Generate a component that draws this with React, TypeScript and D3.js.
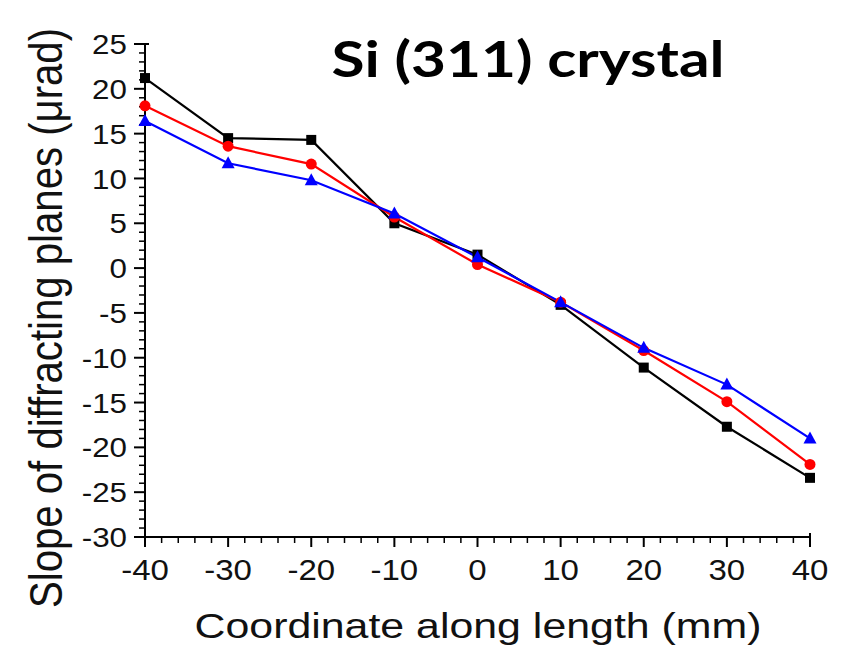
import React from "react";
import * as d3 from "d3";

const coords = [-40, -30, -20, -10, 0, 10, 20, 30, 40];
const blackSeries = [21.2, 14.5, 14.3, 5.0, 1.5, -4.1, -11.1, -17.7, -23.4];
const redSeries = [18.1, 13.6, 11.6, 5.7, 0.4, -3.8, -9.2, -14.9, -21.9];
const blueSeries = [16.4, 11.7, 9.8, 6.1, 1.2, -3.8, -8.9, -13.0, -19.0];
const xTicks = [-40, -30, -20, -10, 0, 10, 20, 30, 40];
const yTicks = [25, 20, 15, 10, 5, 0, -5, -10, -15, -20, -25, -30];

const W = 846, H = 651;
const x = d3.scaleLinear().domain([-40, 40]).range([145, 810]);
const y = d3.scaleLinear().domain([-30, 25]).range([537, 44]);

export default function App() {
  const line = d3.line<[number, number]>().x(d => x(d[0])).y(d => y(d[1]));
  const mk = (vals: number[]) => coords.map((c, i) => [c, vals[i]] as [number, number]);
  const xMinor = d3.range(-40, 41, 2).filter(v => v % 10 !== 0);
  const yMinor = d3.range(-30, 26, 1).filter(v => v % 5 !== 0);
  const font = "'Liberation Sans', Arial, sans-serif";
  return (
    <svg width={W} height={H} style={{ position: "absolute", left: 0, top: 0, background: "#fff" }}>
      <rect width={W} height={H} fill="#fff" />
      {/* axes */}
      <line x1={x(-40)} x2={x(-40)} y1={y(25)} y2={y(-30)} stroke="#000" strokeWidth={2} />
      <line x1={x(-40)} x2={x(40)} y1={y(-30)} y2={y(-30)} stroke="#000" strokeWidth={2} />
      {yTicks.map(t => (
        <g key={"yt" + t}>
          <line x1={x(-40) - 11} x2={x(-40)} y1={y(t)} y2={y(t)} stroke="#000" strokeWidth={2} />
          <text transform={`translate(${x(-40) - 18},${y(t)}) scale(1.12,1)`} dy="0.36em" textAnchor="end" fontFamily={font} fontSize={28} fill="#111">{t}</text>
        </g>
      ))}
      {yMinor.map(t => (
        <line key={"ym" + t} x1={x(-40) - 6} x2={x(-40)} y1={y(t)} y2={y(t)} stroke="#000" strokeWidth={1.5} />
      ))}
      {xTicks.map(t => (
        <g key={"xt" + t}>
          <line x1={x(t)} x2={x(t)} y1={y(-30)} y2={y(-30) + 10} stroke="#000" strokeWidth={2} />
          <text transform={`translate(${x(t)},${y(-30) + 43}) scale(1.1,1)`} textAnchor="middle" fontFamily={font} fontSize={30} fill="#111">{t}</text>
        </g>
      ))}
      {xMinor.map(t => (
        <line key={"xm" + t} x1={x(t)} x2={x(t)} y1={y(-30)} y2={y(-30) + 6} stroke="#000" strokeWidth={1.5} />
      ))}
      <line x1={x(40)} x2={x(40)} y1={y(-30) - 4} y2={y(-30)} stroke="#000" strokeWidth={2} />
      <line x1={x(-40)} x2={x(-40) + 4} y1={y(25)} y2={y(25)} stroke="#000" strokeWidth={2} />
      {/* series */}
      <path d={line(mk(blackSeries)) || ""} fill="none" stroke="#000" strokeWidth={2.2} />
      <path d={line(mk(redSeries)) || ""} fill="none" stroke="#ff0000" strokeWidth={2.2} />
      <path d={line(mk(blueSeries)) || ""} fill="none" stroke="#0000ff" strokeWidth={2.2} />
      {coords.map((c, i) => (
        <rect key={"b" + i} x={x(c) - 5} y={y(blackSeries[i]) - 5} width={10} height={10} fill="#000" />
      ))}
      {coords.map((c, i) => (
        <circle key={"r" + i} cx={x(c)} cy={y(redSeries[i])} r={5.5} fill="#ff0000" />
      ))}
      {coords.map((c, i) => {
        const cx = x(c), cy = y(blueSeries[i]);
        return <path key={"t" + i} d={`M${cx},${cy - 7} L${cx + 6.5},${cy + 5} L${cx - 6.5},${cy + 5} Z`} fill="#0000ff" />;
      })}
      {/* titles */}
      <text x={528} y={77} textAnchor="middle" textLength={393} lengthAdjust="spacingAndGlyphs" fontFamily="Lato, 'Open Sans', sans-serif" fontWeight="bold" fontSize={49} fill="#000">Si (311) crystal</text>
      <text x={478} y={638} textAnchor="middle" textLength={567} lengthAdjust="spacingAndGlyphs" fontFamily={font} fontSize={35} fill="#111">Coordinate along length (mm)</text>
      <text transform={`translate(62, 318) rotate(-90)`} textAnchor="middle" textLength={580} lengthAdjust="spacingAndGlyphs" fontFamily={font} fontSize={47} fill="#111">Slope of diffracting planes (μrad)</text>
    </svg>
  );
}
